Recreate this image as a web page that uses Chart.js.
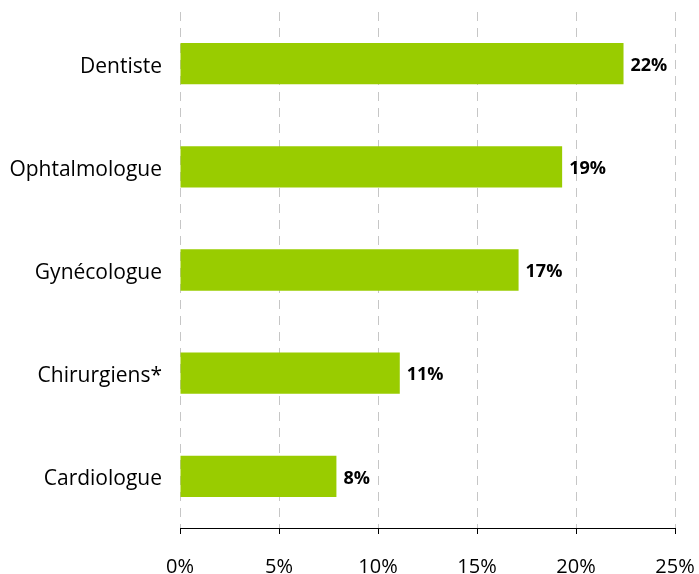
<!DOCTYPE html>
<html>
<head>
<meta charset="utf-8">
<script src="https://cdn.jsdelivr.net/npm/chart.js@4/dist/chart.umd.min.js"></script>
<style>
  html, body { margin: 0; padding: 0; background: #ffffff; }
  #wrap { width: 699px; height: 574px; position: relative; }
</style>
</head>
<body>
<div id="wrap"><canvas id="c" width="699" height="574"></canvas></div>
<script>
const categories = ['Dentiste', 'Ophtalmologue', 'Gynécologue', 'Chirurgiens*', 'Cardiologue'];
const values = [22.4, 19.3, 17.1, 11.1, 7.9];
const valueLabels = ['22%', '19%', '17%', '11%', '8%'];
const xTickValues = [0, 5, 10, 15, 20, 25];

const FONT = "'Open Sans', 'DejaVu Sans', sans-serif";

const valueLabelPlugin = {
  id: 'valueLabels',
  afterDatasetsDraw(chart) {
    const ctx = chart.ctx;
    const meta = chart.getDatasetMeta(0);
    ctx.save();
    ctx.font = 'bold 18px ' + FONT;
    ctx.fillStyle = '#000000';
    ctx.textAlign = 'left';
    ctx.textBaseline = 'middle';
    meta.data.forEach((bar, i) => {
      ctx.fillText(valueLabels[i], bar.x + 7, bar.y + 2);
    });
    ctx.restore();
  }
};

new Chart(document.getElementById('c'), {
  type: 'bar',
  data: {
    labels: categories,
    datasets: [{
      data: values,
      backgroundColor: '#99CC00',
      borderWidth: 0,
      barPercentage: 0.4,
      categoryPercentage: 1.0
    }]
  },
  options: {
    indexAxis: 'y',
    responsive: false,
    animation: false,
    layout: { padding: { top: 12, right: 24, left: 0, bottom: 0 } },
    plugins: {
      legend: { display: false },
      tooltip: { enabled: false }
    },
    scales: {
      x: {
        min: 0,
        max: 25,
        afterBuildTicks(scale) {
          scale.ticks = xTickValues.map(v => ({ value: v }));
        },
        afterFit(scale) {
          scale.height = 46;
          scale.paddingLeft = 0;
          scale.paddingRight = 0;
        },
        grid: {
          color: '#C6C6C6',
          lineWidth: 1,
          drawTicks: true,
          tickLength: 6,
          tickColor: '#000000',
          tickBorderDash: []
        },
        border: { display: true, color: '#000000', width: 1, dash: [9, 7] },
        ticks: {
          color: '#000000',
          font: { family: FONT, size: 20 },
          padding: 21,
          maxRotation: 0,
          callback: (v) => v + '%'
        }
      },
      y: {
        afterFit(scale) {
          scale.width = 180;
          scale.paddingTop = 0;
          scale.paddingBottom = 0;
        },
        grid: { display: false, drawTicks: false },
        border: { display: false },
        ticks: {
          color: '#000000',
          font: { family: FONT, size: 21 },
          padding: 18,
          labelOffset: 3
        }
      }
    }
  },
  plugins: [valueLabelPlugin]
});
</script>
</body>
</html>
